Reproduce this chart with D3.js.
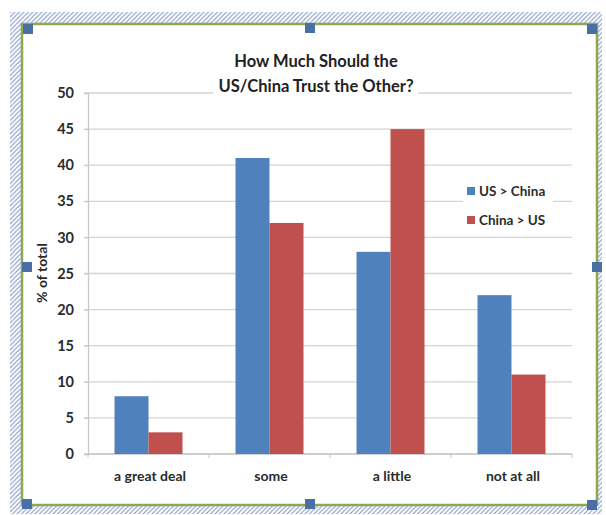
<!DOCTYPE html>
<html>
<head>
<meta charset="utf-8">
<script src="https://cdn.jsdelivr.net/npm/d3@7"></script>
<style>
  html, body { margin: 0; padding: 0; background: #ffffff; }
  svg { display: block; }
  text { font-family: Lato, "Open Sans", "Liberation Sans", sans-serif; font-weight: 700; }
</style>
</head>
<body>
<svg id="chart" width="606" height="515"></svg>
<script>
// Survey answers: how much each side should trust the other
const categories = ["a great deal", "some", "a little", "not at all"];
const seriesNames = ["US > China", "China > US"];
const usChina = [8, 41, 28, 22];
const chinaUs = [3, 32, 45, 11];
const yTicks = [0, 5, 10, 15, 20, 25, 30, 35, 40, 45, 50];
const titleLines = ["How Much Should the", "US/China Trust the Other?"];
const yLabel = "% of total";
const colors = ["#4f81bd", "#c0504d"];

const svg = d3.select("#chart");

// Selection frame around the embedded chart object
const defs = svg.append("defs");
const hatch = defs.append("pattern")
  .attr("id", "hatch")
  .attr("patternUnits", "userSpaceOnUse")
  .attr("width", 4.5).attr("height", 4.5);
hatch.append("path")
  .attr("d", "M-1,1 L1,-1 M0,4.5 L4.5,0 M3.5,5.5 L5.5,3.5")
  .attr("stroke", "#7d95c8").attr("stroke-width", 1.1);

svg.append("rect")
  .attr("x", 10).attr("y", 12).attr("width", 592).attr("height", 502)
  .attr("fill", "url(#hatch)");
svg.append("rect")
  .attr("x", 22).attr("y", 24).attr("width", 575).attr("height", 481)
  .attr("fill", "#ffffff")
  .attr("stroke", "#8ea84c").attr("stroke-width", 2.5);

// Plot area
const plot = { left: 88, right: 572, top: 93, bottom: 454 };

const x0 = d3.scaleBand().domain(categories).range([plot.left, plot.right]);
const x1 = d3.scaleBand().domain(seriesNames).range([0, x0.bandwidth()]).paddingOuter(0.78);
const y = d3.scaleLinear().domain([0, 50]).range([plot.bottom, plot.top]);

// Horizontal gridlines
svg.append("g")
  .selectAll("line")
  .data(yTicks)
  .join("line")
  .attr("x1", plot.left - 4).attr("x2", plot.right)
  .attr("y1", d => y(d)).attr("y2", d => y(d))
  .attr("stroke", "#d4d4d4").attr("stroke-width", 1.3);

// Y axis
const yAxis = svg.append("g")
  .attr("transform", `translate(${plot.left},0)`)
  .call(d3.axisLeft(y).tickValues(yTicks).tickSize(4).tickPadding(10));
yAxis.select(".domain").attr("stroke", "#c8c8c8").attr("stroke-width", 1.3);
yAxis.selectAll(".tick line").attr("stroke", "#c8c8c8");
yAxis.selectAll(".tick text")
  .attr("fill", "#2b2b2b")
  .style("font-size", "14.5px")
  .style("font-family", "Lato, sans-serif")
  .style("font-weight", "700");

// X axis baseline with tick marks between categories
const xAxis = svg.append("g")
  .attr("transform", `translate(0,${plot.bottom})`);
xAxis.append("line")
  .attr("x1", plot.left).attr("x2", plot.right)
  .attr("stroke", "#c8c8c8").attr("stroke-width", 1.3);
xAxis.selectAll("line.sep")
  .data(categories.concat([null]))
  .join("line")
  .attr("class", "sep")
  .attr("x1", (d, i) => plot.left + i * x0.step())
  .attr("x2", (d, i) => plot.left + i * x0.step())
  .attr("y1", 0).attr("y2", 4)
  .attr("stroke", "#c8c8c8");
xAxis.selectAll("text")
  .data(categories)
  .join("text")
  .attr("x", d => x0(d) + x0.bandwidth() / 2 + 1.5)
  .attr("y", 27)
  .attr("text-anchor", "middle")
  .attr("fill", "#2b2b2b")
  .style("font-size", "14px")
  .text(d => d);

// Bars
const rows = categories.map((c, i) => ({ category: c, values: [usChina[i], chinaUs[i]] }));
svg.append("g")
  .selectAll("g")
  .data(rows)
  .join("g")
  .attr("transform", d => `translate(${x0(d.category)},0)`)
  .selectAll("rect")
  .data(d => d.values.map((v, j) => ({ series: seriesNames[j], value: v, j })))
  .join("rect")
  .attr("x", d => x1(d.series))
  .attr("width", x1.bandwidth())
  .attr("y", d => y(d.value))
  .attr("height", d => y(0) - y(d.value))
  .attr("fill", d => colors[d.j]);

// Title on a white box
svg.append("rect")
  .attr("x", 213).attr("y", 46).attr("width", 205).attr("height", 52)
  .attr("fill", "#ffffff");
svg.append("g")
  .selectAll("text")
  .data(titleLines)
  .join("text")
  .attr("x", 316)
  .attr("y", (d, i) => 67 + i * 25)
  .attr("text-anchor", "middle")
  .attr("fill", "#222222")
  .style("font-size", "16.5px")
  .text(d => d);

// Y axis title
svg.append("text")
  .attr("transform", "translate(47,273) rotate(-90)")
  .attr("text-anchor", "middle")
  .attr("fill", "#2b2b2b")
  .style("font-size", "14px")
  .text(yLabel);

// Legend
svg.append("rect")
  .attr("x", 463).attr("y", 178).attr("width", 90).attr("height", 52)
  .attr("fill", "#ffffff");
const legend = svg.append("g")
  .selectAll("g")
  .data(seriesNames)
  .join("g")
  .attr("transform", (d, i) => `translate(467,${191 + i * 29})`);
legend.append("rect")
  .attr("x", 0).attr("y", -4).attr("width", 8).attr("height", 8)
  .attr("fill", (d, i) => colors[i]);
legend.append("text")
  .attr("x", 12).attr("y", 5)
  .attr("fill", "#2b2b2b")
  .style("font-size", "13.5px")
  .text(d => d);

// Sizing handles on the frame
const handles = [
  [23, 24], [305, 23], [587, 24],
  [22, 262], [592, 262],
  [22, 499], [305, 499], [587, 500]
];
svg.append("g")
  .selectAll("rect")
  .data(handles)
  .join("rect")
  .attr("x", d => d[0])
  .attr("y", d => d[1])
  .attr("width", 10).attr("height", 10)
  .attr("fill", "#4a6fa5");
</script>
</body>
</html>
